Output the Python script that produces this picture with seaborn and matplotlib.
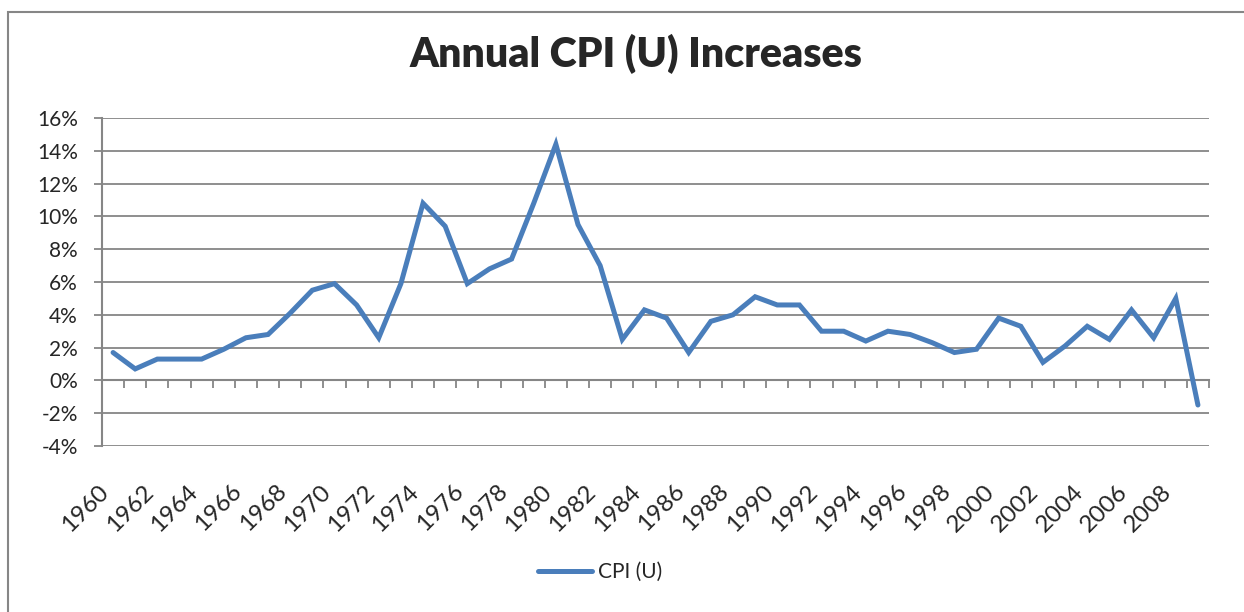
import matplotlib
matplotlib.use("Agg")
import matplotlib.pyplot as plt
import matplotlib.ticker as mticker
from matplotlib.patches import Rectangle
import seaborn as sns
import pandas as pd

years = list(range(1960, 2010))
cpi_u = [1.7, 0.7, 1.3, 1.3, 1.3, 1.9, 2.6, 2.8, 4.1, 5.5,
         5.9, 4.6, 2.6, 5.9, 10.8, 9.4, 5.9, 6.8, 7.4, 10.8,
         14.4, 9.5, 7.0, 2.5, 4.3, 3.8, 1.7, 3.6, 4.0, 5.1,
         4.6, 4.6, 3.0, 3.0, 2.4, 3.0, 2.8, 2.3, 1.7, 1.9,
         3.8, 3.3, 1.1, 2.1, 3.3, 2.5, 4.3, 2.6, 5.0, -1.5]
series_name = "CPI (U)"
title = "Annual CPI (U) Increases"
y_ticks = list(range(-4, 18, 2))
x_label_years = list(range(1960, 2010, 2))

sns.set_style("white")
plt.rcParams['font.family'] = ['Lato', 'DejaVu Sans']

LINE = "#4A7EBB"
GRID = "#868686"

df = pd.DataFrame({"Year": years, series_name: cpi_u})

fig = plt.figure(figsize=(12.44, 6.12), dpi=100)
ax = fig.add_axes([102/1244, 1-446/612, (1209-102)/1244, (446-118)/612])

sns.lineplot(data=df, x="Year", y=series_name, ax=ax, color=LINE,
             linewidth=3.6, label=series_name, legend=False,
             solid_joinstyle="miter", zorder=5)

ax.set_xlim(years[0]-0.5, years[-1]+0.5)
ax.set_ylim(-4, 16)
ax.set_yticks(y_ticks)
ax.yaxis.set_major_formatter(mticker.FuncFormatter(lambda v, p: f"{v:.0f}%"))
ax.grid(axis="y", color=GRID, linewidth=1.3)
ax.grid(axis="x", visible=False)
ax.set_axisbelow(True)
for s in ["top", "right", "bottom"]:
    ax.spines[s].set_visible(False)
ax.spines["left"].set_color(GRID)
ax.spines["left"].set_linewidth(1.5)
ax.tick_params(axis="y", direction="out", length=5.5, width=1.3, color=GRID,
               labelsize=15, pad=12, left=True)
ax.set_xticks(x_label_years)
ax.set_xticklabels([str(y) for y in x_label_years], rotation=45, ha="right")
ax.tick_params(axis="x", length=0, labelsize=17.5, pad=25)
ax.set_xlabel("")
ax.set_ylabel("")

# category axis crossing at 0 with boundary tick marks
sec = ax.secondary_xaxis(4/20)
sec.set_xticks([y - 0.5 for y in years] + [years[-1] + 0.5])
sec.tick_params(axis="x", direction="out", length=5.5, width=1.3, color=GRID,
                labelbottom=False)
sec.spines["bottom"].set_color(GRID)
sec.spines["bottom"].set_linewidth(1.5)
for s in ["top", "left", "right"]:
    sec.spines[s].set_visible(False)

fig.text(636/1244, 1-67/612, title, ha="center", va="baseline",
         fontsize=29.5, fontweight="heavy")

handles, labels = ax.get_legend_handles_labels()
fig.legend(handles, labels, loc="center", bbox_to_anchor=(600/1244, 1-572/612),
           frameon=False, fontsize=15, handlelength=2.6, handletextpad=0.25)

fig.patches.append(Rectangle((8/1244, -0.1), 1.2, 1-12/612+0.1,
                             transform=fig.transFigure, fill=False,
                             edgecolor=GRID, linewidth=1.5))

fig.savefig("out.png", dpi=100)
